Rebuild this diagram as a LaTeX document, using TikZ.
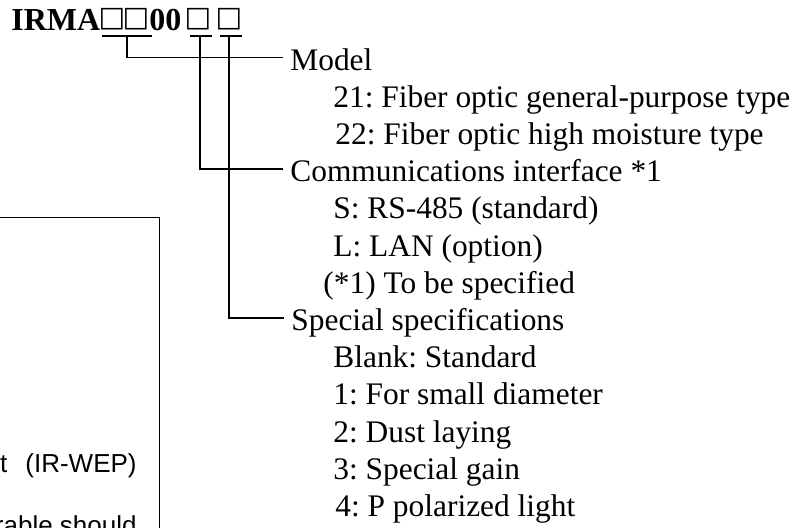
\documentclass[tikz,border=0pt]{standalone}
\usepackage{fontspec}
\setmainfont{Liberation Serif}
\newfontfamily\notefont{Liberation Sans}
\newfontfamily\slotfont{DejaVu Sans}
\frenchspacing
\usetikzlibrary{positioning,calc}
\tikzset{
  codepart/.style={anchor=base west, inner sep=0pt, font=\fontsize{16}{18}\selectfont\bfseries},
  codebox/.style={anchor=base, inner sep=0pt, font=\slotfont\fontsize{14.1}{16}\selectfont},
  heading/.style={anchor=base west, inner xsep=3.5pt, inner ysep=0pt,
    text height=12.5pt, text depth=0pt, font=\fontsize{15.7}{18}\selectfont},
  item/.style={anchor=base west, inner sep=0pt, font=\fontsize{15.7}{18}\selectfont},
  notetext/.style={anchor=base east, inner sep=0pt, font=\notefont\fontsize{13}{16}\selectfont},
  lead/.style={line width=0.65pt},
  framebox/.style={line width=0.5pt}
}
\begin{document}
\begin{tikzpicture}[x=0.5pt, y=-0.5pt]
\useasboundingbox (0,0) rectangle (802,527);
\clip (0,0) rectangle (802,527);
% model code
\node[codepart] (irma) at (11,30) {IRMA};
\node[codebox] (b1) at (112,26.5) {□};
\node[codebox] (b2) at (136,26.5) {□};
\node[codepart] (zz) at (149,30) {00};
\node[codebox] (b3) at (198,26.5) {□};
\node[codebox] (b4) at (229,26.5) {□};

% headings and choices
\node[heading] (model) at (283,70) {Model};
\node[item] (m21) at (333,107.2) {21: Fiber optic general-purpose type};
\node[item] (m22) at (335,144.4) {22: Fiber optic high moisture type};
\node[heading] (comm) at (283,181.6) {Communications interface *1};
\node[item] (cs) at (333,218.8) {S: RS-485 (standard)};
\node[item] (cl) at (333,256) {L: LAN (option)};
\node[item] (cnote) at (323,293.2) {(*1) To be specified};
\node[heading] (spec) at (284,330.4) {Special specifications};
\node[item] (s0) at (333,367.6) {Blank: Standard};
\node[item] (s1) at (333,404.8) {1: For small diameter};
\node[item] (s2) at (333,442) {2: Dust laying};
\node[item] (s3) at (333,479.2) {3: Special gain};
\node[item] (s4) at (335,516.4) {4: P polarized light};

% underlines and leaders
\coordinate (u1a) at ([xshift=-5pt,yshift=-4.75pt]b1.base);
\coordinate (u1b) at ([xshift=8pt,yshift=-4.75pt]b2.base);
\coordinate (u2a) at ([xshift=-4pt,yshift=-4.75pt]b3.base);
\coordinate (u2b) at ([xshift=7pt,yshift=-4.75pt]b3.base);
\coordinate (u3a) at ([xshift=-4.5pt,yshift=-4.75pt]b4.base);
\coordinate (u3b) at ([xshift=6.5pt,yshift=-4.75pt]b4.base);
\draw[lead] (u1a) -- (u1b);
\draw[lead] (u2a) -- (u2b);
\draw[lead] (u3a) -- (u3b);
\draw[lead] ($(u1a)!.5!(u1b)$) |- (model.west);
\draw[lead] ([xshift=1pt,yshift=-4.75pt]b3.base) |- (comm.west);
\draw[lead] ([yshift=-4.75pt]b4.base) |- (spec.west);

% neighbouring note box, cut by the page edge
\draw[framebox] (-20,217) rectangle (159,600);
\node[notetext] (irwep) at (137,472) {t\hspace{9pt}(IR-WEP)};
\node[notetext] (should) at (137,534) {rable should};
\end{tikzpicture}
\end{document}
